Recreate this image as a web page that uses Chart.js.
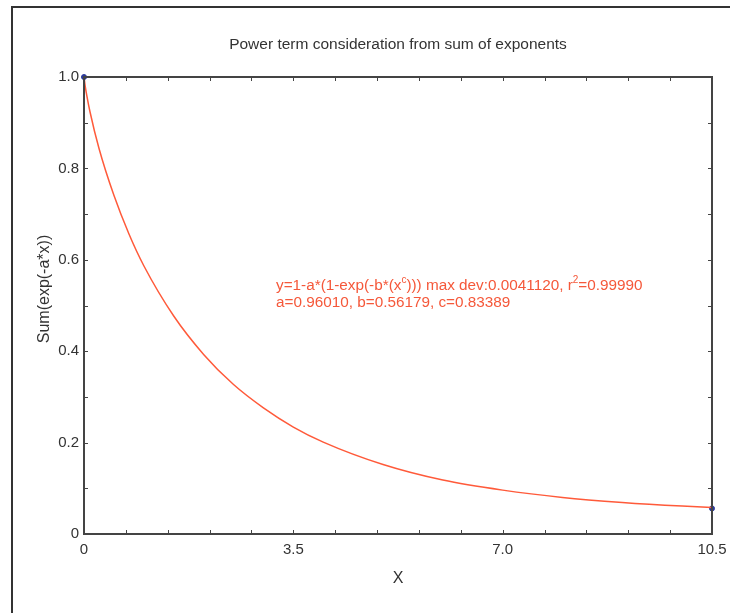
<!DOCTYPE html>
<html>
<head>
<meta charset="utf-8">
<script src="https://cdn.jsdelivr.net/npm/chart.js@4.4.1/dist/chart.umd.min.js"></script>
<style>
  body { margin: 0; background: #fff; }
  canvas { display: block; }
</style>
</head>
<body>
<canvas id="chart" width="730" height="613"></canvas>
<script>
// Curve
const xValues = [0, 0.02, 0.05, 0.1, 0.25, 0.5, 0.75, 1, 1.5, 2, 2.5, 3, 3.5, 4, 5, 6, 7, 8, 9, 10, 10.5];
const yValues = [1.0, 0.980, 0.957, 0.924, 0.844, 0.741, 0.657, 0.587, 0.477, 0.393, 0.327, 0.276, 0.234, 0.201, 0.152, 0.118, 0.096, 0.080, 0.069, 0.061, 0.058];

// Data points shown as markers
const markerX = [0, 10.5];
const markerY = [1.0, 0.056];

const titleText = 'Power term consideration from sum of exponents';
const xTitle = 'X';
const yTitle = 'Sum(exp(-a*x))';

const xMinorStep = 0.7;
const yMinorStep = 0.1;

const FONT = 'Liberation Sans, Arial, sans-serif';
const TEXT = '#333';
const CURVE = '#ff5a3a';

// Frame, plot box, inward ticks, titles and fit annotation
const decorPlugin = {
    id: 'decor',
    afterDraw(chart) {
        const ctx = chart.ctx;
        const a = chart.chartArea;
        const xs = chart.scales.x;
        const ys = chart.scales.y;
        ctx.save();

        // outer frame (top + left)
        ctx.strokeStyle = '#333';
        ctx.lineWidth = 2;
        ctx.beginPath();
        ctx.moveTo(12, 613);
        ctx.lineTo(12, 7);
        ctx.lineTo(730, 7);
        ctx.stroke();

        // plot box
        ctx.strokeStyle = '#444';
        ctx.lineWidth = 2;
        ctx.strokeRect(a.left, a.top, a.right - a.left, a.bottom - a.top);

        // inward ticks
        ctx.lineWidth = 1;
        ctx.beginPath();
        for (let v = 0; v <= xs.max + 1e-9; v += xMinorStep) {
            const px = Math.round(xs.getPixelForValue(v)) + 0.5;
            ctx.moveTo(px, a.bottom); ctx.lineTo(px, a.bottom - 4);
            ctx.moveTo(px, a.top); ctx.lineTo(px, a.top + 4);
        }
        for (let v = 0; v <= ys.max + 1e-9; v += yMinorStep) {
            const py = Math.round(ys.getPixelForValue(v)) + 0.5;
            ctx.moveTo(a.left, py); ctx.lineTo(a.left + 4, py);
            ctx.moveTo(a.right, py); ctx.lineTo(a.right - 4, py);
        }
        ctx.stroke();

        // title
        ctx.fillStyle = TEXT;
        ctx.font = '15.5px ' + FONT;
        ctx.textAlign = 'center';
        ctx.textBaseline = 'middle';
        ctx.fillText(titleText, (a.left + a.right) / 2, 45);

        // y axis title
        ctx.save();
        ctx.translate(45, 289);
        ctx.rotate(-Math.PI / 2);
        ctx.font = '16px ' + FONT;
        ctx.fillText(yTitle, 0, 0);
        ctx.restore();

        // fit annotation
        ctx.fillStyle = '#f5583a';
        ctx.textAlign = 'left';
        ctx.textBaseline = 'alphabetic';
        const big = '15.3px ' + FONT;
        const small = '10px ' + FONT;
        const parts = [
            ['y=1-a*(1-exp(-b*(x', big, 0],
            ['c', small, -7],
            ['))) max dev:0.0041120, r', big, 0],
            ['2', small, -7],
            ['=0.99990', big, 0]
        ];
        let x = 276;
        parts.forEach(p => {
            ctx.font = p[1];
            ctx.fillText(p[0], x, 290 + p[2]);
            x += ctx.measureText(p[0]).width;
        });
        ctx.font = big;
        ctx.fillText('a=0.96010, b=0.56179, c=0.83389', 276, 307);

        ctx.restore();
    }
};

new Chart(document.getElementById('chart'), {
    type: 'scatter',
    data: {
        datasets: [
            {
                data: xValues.map((x, i) => ({ x: x, y: yValues[i] })),
                showLine: true,
                borderColor: CURVE,
                borderWidth: 1.5,
                pointRadius: 0,
                cubicInterpolationMode: 'monotone',
                clip: false
            },
            {
                data: markerX.map((x, i) => ({ x: x, y: markerY[i] })),
                showLine: false,
                backgroundColor: '#2c3a9c',
                borderColor: '#2c3a9c',
                pointRadius: 2.5,
                clip: false
            }
        ]
    },
    options: {
        responsive: false,
        animation: false,
        layout: { padding: { top: 77, right: 18, left: 0, bottom: 0 } },
        plugins: {
            legend: { display: false },
            title: { display: false },
            tooltip: { enabled: false }
        },
        scales: {
            x: {
                type: 'linear',
                min: 0,
                max: 10.5,
                grid: { display: false, drawTicks: false },
                border: { display: false },
                ticks: {
                    stepSize: 3.5,
                    padding: 7,
                    color: TEXT,
                    font: { family: FONT, size: 15 },
                    maxRotation: 0,
                    callback: v => v === 0 ? '0' : v.toFixed(1)
                },
                title: {
                    display: true,
                    text: xTitle,
                    color: TEXT,
                    font: { family: FONT, size: 16 },
                    padding: { top: 0, bottom: 25 }
                },
                afterFit: s => {
                    s.height = 79;
                    s.paddingLeft = 0;
                    s.paddingRight = 0;
                }
            },
            y: {
                type: 'linear',
                min: 0,
                max: 1.0,
                grid: { display: false, drawTicks: false },
                border: { display: false },
                ticks: {
                    stepSize: 0.2,
                    padding: 5,
                    color: TEXT,
                    font: { family: FONT, size: 15 },
                    callback: v => v === 0 ? '0' : v.toFixed(1)
                },
                title: { display: false },
                afterFit: s => { s.width = 84; }
            }
        }
    },
    plugins: [decorPlugin]
});
</script>
</body>
</html>
